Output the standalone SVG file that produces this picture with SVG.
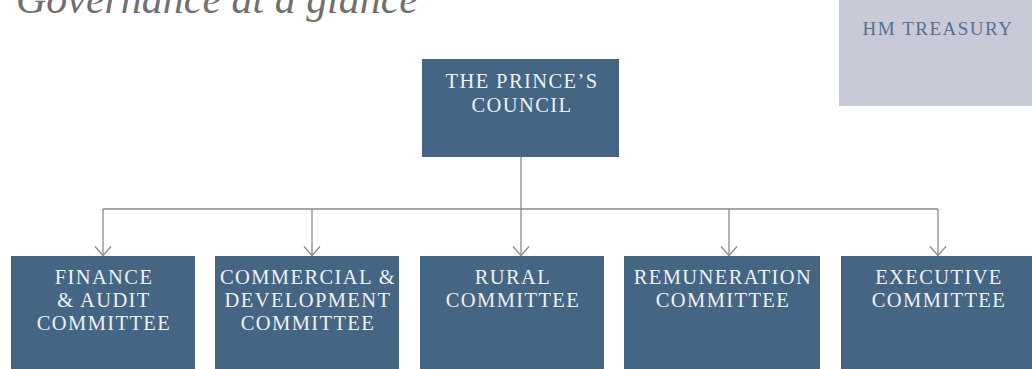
<svg xmlns="http://www.w3.org/2000/svg" width="1032" height="369" viewBox="0 0 1032 369">
<style>
.box{fill:#456585;}
.lbl{font-family:"Liberation Serif","DejaVu Serif",serif;font-size:20.5px;fill:#eef1f5;text-anchor:middle;letter-spacing:1.4px;}
.conn{fill:none;stroke:#8a8a8a;stroke-width:1.3;}
.title{font-family:"Liberation Serif","DejaVu Serif",serif;font-style:italic;font-size:42px;fill:#707070;}
</style>
<defs>
<marker id="arr" markerUnits="userSpaceOnUse" markerWidth="20" markerHeight="20" refX="10" refY="10" orient="auto">
<path d="M1,2 L10,10 L1,18" fill="none" stroke="#8a8a8a" stroke-width="1.3"/>
</marker>
</defs>
<rect width="1032" height="369" fill="#ffffff"/>
<text class="title" x="16" y="13" textLength="402" lengthAdjust="spacingAndGlyphs">Governance at a glance</text>
<g id="hm-treasury">
<rect x="839" y="0" width="193" height="106" fill="#c9cad8"/>
<text x="938" y="35" style="font-family:'Liberation Serif','DejaVu Serif',serif;font-size:19px;fill:#56718f;text-anchor:middle;letter-spacing:1.5px">HM TREASURY</text>
</g>
<g id="connectors">
<path class="conn" d="M521,157 V209"/>
<path class="conn" d="M103,209 H938"/>
<path class="conn" d="M103,209 V255.5" marker-end="url(#arr)"/>
<path class="conn" d="M312,209 V255.5" marker-end="url(#arr)"/>
<path class="conn" d="M521,209 V255.5" marker-end="url(#arr)"/>
<path class="conn" d="M729,209 V255.5" marker-end="url(#arr)"/>
<path class="conn" d="M938,209 V255.5" marker-end="url(#arr)"/>
</g>
<g id="princes-council">
<rect class="box" x="422" y="59" width="197" height="98"/>
<text class="lbl" x="522" y="88">THE PRINCE’S</text>
<text class="lbl" x="522" y="112">COUNCIL</text>
</g>
<g id="finance-audit">
<rect class="box" x="11" y="256" width="184" height="113"/>
<text class="lbl" x="104" y="284">FINANCE</text>
<text class="lbl" x="104" y="307">&amp; AUDIT</text>
<text class="lbl" x="104" y="330">COMMITTEE</text>
</g>
<g id="commercial-development">
<rect class="box" x="215" y="256" width="184" height="113"/>
<text class="lbl" x="308" y="284">COMMERCIAL &amp;</text>
<text class="lbl" x="308" y="307">DEVELOPMENT</text>
<text class="lbl" x="308" y="330">COMMITTEE</text>
</g>
<g id="rural">
<rect class="box" x="420" y="256" width="184" height="113"/>
<text class="lbl" x="513" y="284">RURAL</text>
<text class="lbl" x="513" y="307">COMMITTEE</text>
</g>
<g id="remuneration">
<rect class="box" x="624" y="256" width="196" height="113"/>
<text class="lbl" x="723" y="284">REMUNERATION</text>
<text class="lbl" x="723" y="307">COMMITTEE</text>
</g>
<g id="executive">
<rect class="box" x="841" y="256" width="191" height="113"/>
<text class="lbl" x="939" y="284">EXECUTIVE</text>
<text class="lbl" x="939" y="307">COMMITTEE</text>
</g>
</svg>
